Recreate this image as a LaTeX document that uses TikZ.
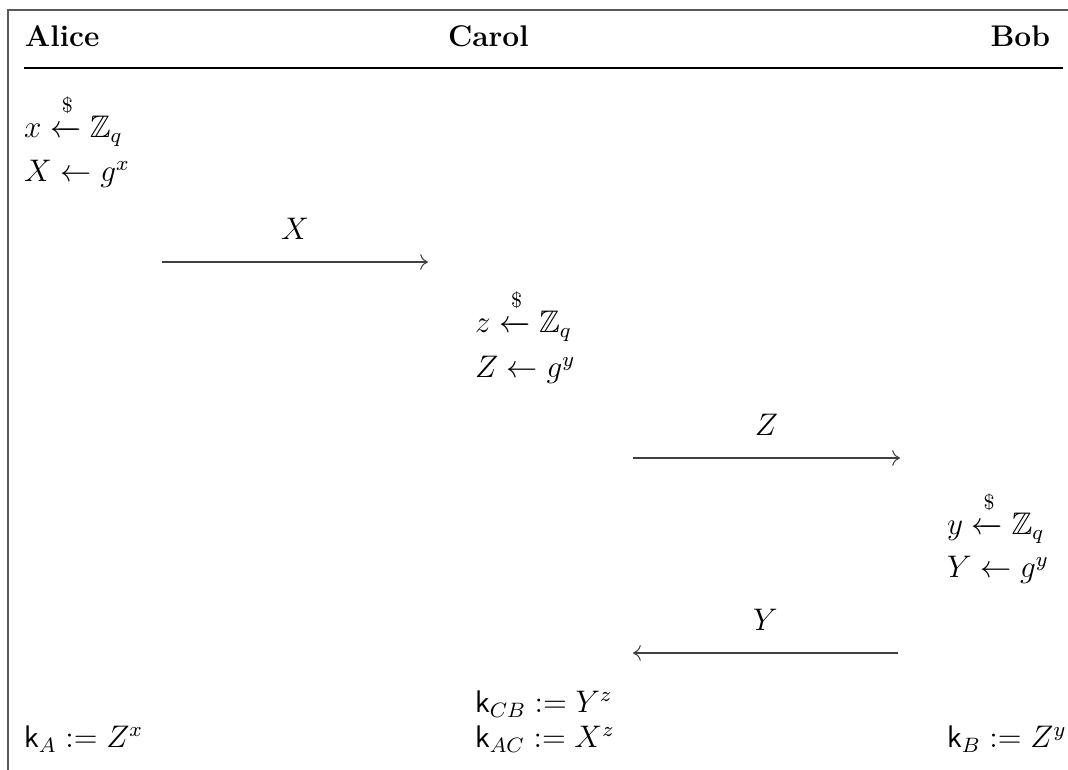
\documentclass[tikz,border=0pt]{standalone}
\usepackage{amsmath,amssymb}
\usetikzlibrary{arrows.meta}
\tikzset{
  txt/.style={anchor=base west, inner sep=0pt, outer sep=0pt, font=\fontsize{12}{14.4}\selectfont},
  hdr/.style={anchor=base west, inner sep=0pt, outer sep=0pt, font=\fontsize{11.5}{14}\selectfont\bfseries},
  msg/.style={line width=0.4pt, draw=black!75, -{To[length=3pt,width=6pt]}},
  lbl/.style={anchor=base, inner sep=0pt, yshift=8.5pt, font=\fontsize{12}{14.4}\selectfont},
  frame/.style={line width=0.6pt, draw=black!65},
  rule/.style={line width=0.45pt, draw=black}
}
\newcommand{\smp}{\xleftarrow{\raisebox{0.6ex}{$\scriptstyle\$$}}}
\begin{document}
\begin{tikzpicture}[x=0.3846pt, y=-0.3846pt]
\useasboundingbox (0,0) rectangle (1068,770);
% frame
\coordinate (fTR) at (1068,10);
\coordinate (fTL) at (8,10);
\coordinate (fBL) at (8,770);
\draw[frame] (fTR) -- (fTL) -- (fBL);
% headers
\node[hdr] (hA) at (25,47) {Alice};
\node[hdr] (hC) at (448,47) {Carol};
\node[hdr, anchor=base east] (hB) at (1050,47) {Bob};
\coordinate (r1) at (24,68);
\coordinate (r2) at (1063,68);
\draw[rule] (r1) -- (r2);
% Alice
\node[txt] (a1) at (24,138) {$x \smp \mathbb{Z}_q$};
\node[txt] (a2) at (24,182) {$X \leftarrow g^x$};
% X arrow
\coordinate (xs) at (162,262);
\coordinate (xe) at (428,262);
\draw[msg] (xs) -- node[lbl] (lX) {$X$} (xe);
% Carol
\node[txt] (c1) at (475,333) {$z \smp \mathbb{Z}_q$};
\node[txt] (c2) at (475,378) {$Z \leftarrow g^y$};
% Z arrow
\coordinate (zs) at (633,458);
\coordinate (ze) at (900,458);
\draw[msg] (zs) -- node[lbl] (lZ) {$Z$} (ze);
% Bob
\node[txt] (b1) at (947,535) {$y \smp \mathbb{Z}_q$};
\node[txt] (b2) at (947,578) {$Y \leftarrow g^y$};
% Y arrow
\coordinate (ys) at (898,653);
\coordinate (ye) at (633,653);
\draw[msg] (ys) -- node[lbl] (lY) {$Y$} (ye);
% keys
\node[txt] (kCB) at (475,713) {$\mathsf{k}_{CB} := Y^z$};
\node[txt] (kAC) at (475,748) {$\mathsf{k}_{AC} := X^z$};
\node[txt] (kA) at (24,748) {$\mathsf{k}_{A} := Z^x$};
\node[txt] (kB) at (947,748) {$\mathsf{k}_{B} := Z^y$};
\end{tikzpicture}
\end{document}
